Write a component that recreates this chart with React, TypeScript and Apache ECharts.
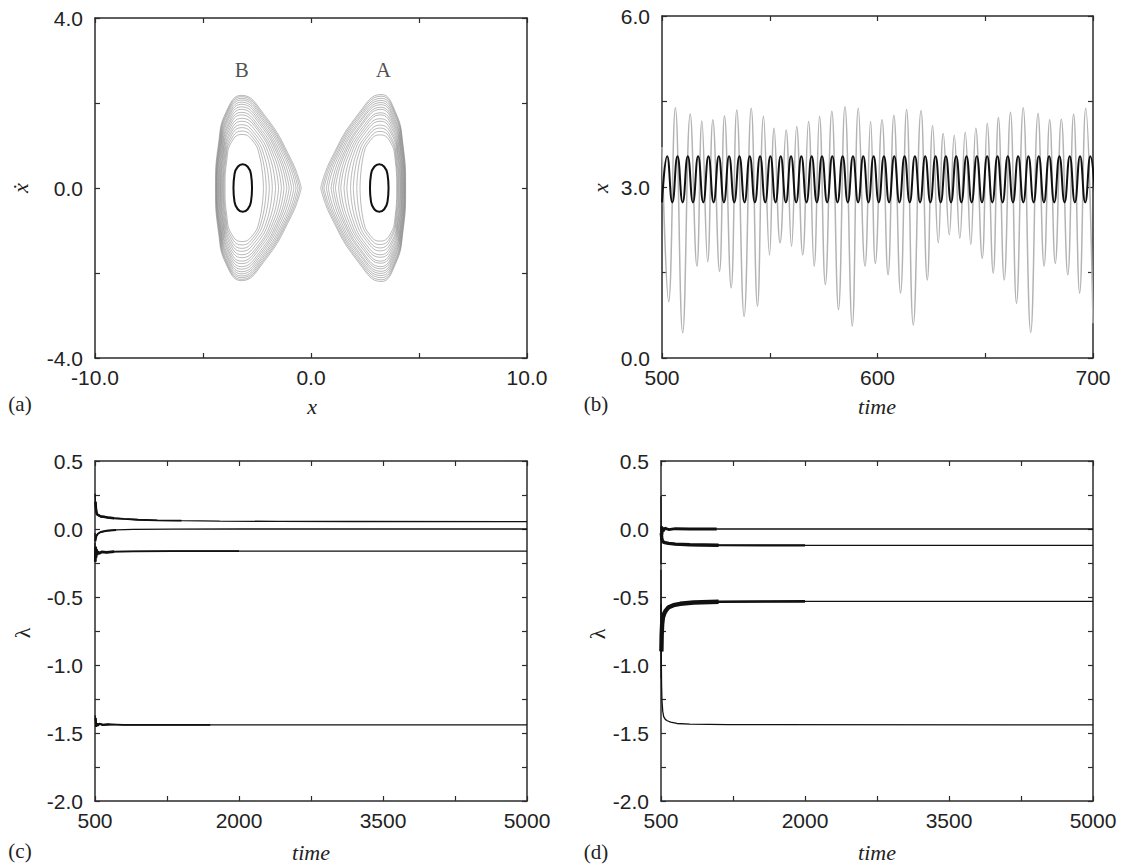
import { useEffect, useRef } from "react";
import * as echarts from "echarts";

const SANS = "'Liberation Sans', Arial, Helvetica, sans-serif";
const SERIF = "'Liberation Serif', 'Times New Roman', 'DejaVu Serif', serif";
const AXIS_COLOR = "#2b2b2b";
const TEXT_COLOR = "#222222";

// ---------------- (a) phase plane ----------------
const phaseXTicks = [-10, -5, 0, 5, 10];
const phaseXLabels = [-10, 0, 10];
const phaseYTicks = [-4, -2, 0, 2, 4];
const phaseYLabels = [-4, 0, 4];

// chaotic attractor around the right well (A): nested loops, inner to outer
const attractorA: number[][][] = [
  [[2.27,0],[2.42,0.75],[2.75,1.12],[3.2,1.25],[3.65,1.1],[3.9,0.65],[3.97,0],[3.9,-0.65],[3.65,-1.1],[3.2,-1.25],[2.75,-1.12],[2.42,-0.75],[2.27,0]],
  [[2.12,0],[2.3,0.74],[2.71,1.17],[3.2,1.33],[3.67,1.16],[3.93,0.68],[4.0,0],[3.93,-0.68],[3.67,-1.16],[3.2,-1.33],[2.71,-1.17],[2.3,-0.74],[2.12,0]],
  [[1.96,0],[2.17,0.73],[2.66,1.23],[3.21,1.41],[3.69,1.21],[3.96,0.71],[4.04,0],[3.96,-0.71],[3.69,-1.21],[3.21,-1.41],[2.66,-1.23],[2.17,-0.73],[1.96,0]],
  [[1.83,0],[2.05,0.73],[2.61,1.27],[3.21,1.48],[3.71,1.28],[3.99,0.75],[4.07,0],[3.99,-0.75],[3.71,-1.28],[3.21,-1.48],[2.61,-1.27],[2.05,-0.73],[1.83,0]],
  [[1.66,0],[1.92,0.72],[2.57,1.34],[3.22,1.57],[3.73,1.33],[4.02,0.78],[4.11,0],[4.02,-0.78],[3.73,-1.33],[3.22,-1.57],[2.57,-1.34],[1.92,-0.72],[1.66,0]],
  [[1.53,0],[1.8,0.71],[2.52,1.38],[3.22,1.63],[3.75,1.39],[4.04,0.81],[4.14,0],[4.04,-0.81],[3.75,-1.39],[3.22,-1.63],[2.52,-1.38],[1.8,-0.71],[1.53,0]],
  [[1.38,0],[1.68,0.7],[2.49,1.43],[3.22,1.72],[3.77,1.44],[4.07,0.84],[4.17,0],[4.07,-0.84],[3.77,-1.44],[3.22,-1.72],[2.49,-1.43],[1.68,-0.7],[1.38,0]],
  [[1.28,0],[1.58,0.7],[2.45,1.47],[3.23,1.77],[3.79,1.49],[4.09,0.87],[4.2,0],[4.09,-0.87],[3.79,-1.49],[3.23,-1.77],[2.45,-1.47],[1.58,-0.7],[1.28,0]],
  [[1.13,0],[1.48,0.69],[2.41,1.52],[3.23,1.85],[3.81,1.53],[4.12,0.9],[4.22,0],[4.12,-0.9],[3.81,-1.53],[3.23,-1.85],[2.41,-1.52],[1.48,-0.69],[1.13,0]],
  [[1.03,0],[1.39,0.68],[2.38,1.55],[3.23,1.9],[3.82,1.58],[4.14,0.92],[4.25,0],[4.14,-0.92],[3.82,-1.58],[3.23,-1.9],[2.38,-1.55],[1.39,-0.68],[1.03,0]],
  [[0.93,0],[1.3,0.68],[2.34,1.59],[3.24,1.96],[3.84,1.62],[4.16,0.95],[4.27,0],[4.16,-0.95],[3.84,-1.62],[3.24,-1.96],[2.34,-1.59],[1.3,-0.68],[0.93,0]],
  [[0.8,0],[1.2,0.67],[2.31,1.62],[3.24,2.01],[3.85,1.66],[4.18,0.97],[4.3,0],[4.18,-0.97],[3.85,-1.66],[3.24,-2.01],[2.31,-1.62],[1.2,-0.67],[0.8,0]],
  [[0.71,0],[1.11,0.66],[2.28,1.66],[3.24,2.06],[3.87,1.7],[4.2,0.99],[4.32,0],[4.2,-0.99],[3.87,-1.7],[3.24,-2.06],[2.28,-1.66],[1.11,-0.66],[0.71,0]],
  [[0.6,0],[1.04,0.66],[2.25,1.69],[3.25,2.11],[3.88,1.74],[4.22,1.01],[4.34,0],[4.22,-1.01],[3.88,-1.74],[3.25,-2.11],[2.25,-1.69],[1.04,-0.66],[0.6,0]],
  [[0.53,0],[0.96,0.65],[2.22,1.72],[3.25,2.16],[3.89,1.77],[4.24,1.03],[4.36,0],[4.24,-1.03],[3.89,-1.77],[3.25,-2.16],[2.22,-1.72],[0.96,-0.65],[0.53,0]],
  [[0.45,0],[0.9,0.65],[2.2,1.75],[3.25,2.2],[3.9,1.8],[4.25,1.05],[4.38,0],[4.25,-1.05],[3.9,-1.8],[3.25,-2.2],[2.2,-1.75],[0.9,-0.65],[0.45,0]],
];

// chaotic attractor around the left well (B)
const attractorB: number[][][] = [
  [[-2.2,0],[-2.38,0.75],[-2.73,1.13],[-3.2,1.26],[-3.66,1.1],[-3.9,0.65],[-3.98,0],[-3.9,-0.65],[-3.66,-1.1],[-3.2,-1.26],[-2.73,-1.13],[-2.38,-0.75],[-2.2,0]],
  [[-2.07,0],[-2.27,0.74],[-2.69,1.18],[-3.2,1.34],[-3.68,1.16],[-3.94,0.68],[-4.02,0],[-3.94,-0.68],[-3.68,-1.16],[-3.2,-1.34],[-2.69,-1.18],[-2.27,-0.74],[-2.07,0]],
  [[-1.93,0],[-2.15,0.73],[-2.65,1.23],[-3.21,1.42],[-3.7,1.22],[-3.97,0.71],[-4.06,0],[-3.97,-0.71],[-3.7,-1.22],[-3.21,-1.42],[-2.65,-1.23],[-2.15,-0.73],[-1.93,0]],
  [[-1.79,0],[-2.02,0.73],[-2.6,1.28],[-3.21,1.49],[-3.72,1.28],[-4.0,0.75],[-4.09,0],[-4.0,-0.75],[-3.72,-1.28],[-3.21,-1.49],[-2.6,-1.28],[-2.02,-0.73],[-1.79,0]],
  [[-1.64,0],[-1.9,0.72],[-2.56,1.34],[-3.21,1.57],[-3.74,1.33],[-4.03,0.78],[-4.13,0],[-4.03,-0.78],[-3.74,-1.33],[-3.21,-1.57],[-2.56,-1.34],[-1.9,-0.72],[-1.64,0]],
  [[-1.5,0],[-1.78,0.71],[-2.51,1.39],[-3.21,1.64],[-3.76,1.39],[-4.06,0.81],[-4.16,0],[-4.06,-0.81],[-3.76,-1.39],[-3.21,-1.64],[-2.51,-1.39],[-1.78,-0.71],[-1.5,0]],
  [[-1.37,0],[-1.67,0.7],[-2.48,1.43],[-3.22,1.72],[-3.78,1.44],[-4.08,0.84],[-4.19,0],[-4.08,-0.84],[-3.78,-1.44],[-3.22,-1.72],[-2.48,-1.43],[-1.67,-0.7],[-1.37,0]],
  [[-1.25,0],[-1.57,0.7],[-2.44,1.47],[-3.22,1.78],[-3.8,1.49],[-4.11,0.87],[-4.22,0],[-4.11,-0.87],[-3.8,-1.49],[-3.22,-1.78],[-2.44,-1.47],[-1.57,-0.7],[-1.25,0]],
  [[-1.12,0],[-1.47,0.69],[-2.4,1.52],[-3.22,1.85],[-3.82,1.53],[-4.13,0.9],[-4.25,0],[-4.13,-0.9],[-3.82,-1.53],[-3.22,-1.85],[-2.4,-1.52],[-1.47,-0.69],[-1.12,0]],
  [[-1.01,0],[-1.38,0.68],[-2.37,1.56],[-3.22,1.91],[-3.84,1.58],[-4.16,0.92],[-4.28,0],[-4.16,-0.92],[-3.84,-1.58],[-3.22,-1.91],[-2.37,-1.56],[-1.38,-0.68],[-1.01,0]],
  [[-0.9,0],[-1.29,0.68],[-2.33,1.59],[-3.22,1.97],[-3.86,1.62],[-4.18,0.95],[-4.31,0],[-4.18,-0.95],[-3.86,-1.62],[-3.22,-1.97],[-2.33,-1.59],[-1.29,-0.68],[-0.9,0]],
  [[-0.79,0],[-1.19,0.67],[-2.3,1.63],[-3.22,2.02],[-3.87,1.66],[-4.2,0.97],[-4.34,0],[-4.2,-0.97],[-3.87,-1.66],[-3.22,-2.02],[-2.3,-1.63],[-1.19,-0.67],[-0.79,0]],
  [[-0.69,0],[-1.1,0.66],[-2.27,1.66],[-3.22,2.07],[-3.89,1.7],[-4.22,0.99],[-4.36,0],[-4.22,-0.99],[-3.89,-1.7],[-3.22,-2.07],[-2.27,-1.66],[-1.1,-0.66],[-0.69,0]],
  [[-0.6,0],[-1.03,0.66],[-2.24,1.69],[-3.22,2.11],[-3.9,1.74],[-4.24,1.01],[-4.38,0],[-4.24,-1.01],[-3.9,-1.74],[-3.22,-2.11],[-2.24,-1.69],[-1.03,-0.66],[-0.6,0]],
  [[-0.52,0],[-0.96,0.65],[-2.22,1.72],[-3.22,2.15],[-3.91,1.77],[-4.26,1.03],[-4.4,0],[-4.26,-1.03],[-3.91,-1.77],[-3.22,-2.15],[-2.22,-1.72],[-0.96,-0.65],[-0.52,0]],
  [[-0.45,0],[-0.9,0.65],[-2.2,1.75],[-3.22,2.18],[-3.92,1.8],[-4.28,1.05],[-4.42,0],[-4.28,-1.05],[-3.92,-1.8],[-3.22,-2.18],[-2.2,-1.75],[-0.9,-0.65],[-0.45,0]],
];

// periodic orbits (black)
const periodicOrbitA = [[2.73,0],[2.78,0.33],[2.93,0.5],[3.16,0.56],[3.39,0.5],[3.54,0.33],[3.59,0],[3.54,-0.33],[3.39,-0.5],[3.16,-0.56],[2.93,-0.5],[2.78,-0.33],[2.73,0],[2.78,0.33]];
const periodicOrbitB = [[-2.73,0],[-2.78,0.33],[-2.93,0.5],[-3.16,0.56],[-3.39,0.5],[-3.54,0.33],[-3.59,0],[-3.54,-0.33],[-3.39,-0.5],[-3.16,-0.56],[-2.93,-0.5],[-2.78,-0.33],[-2.73,0],[-2.78,0.33]];

const attractorNames = ["B", "A"];
const attractorNameX = [-3.21, 3.35];
const attractorNameY = [2.78, 2.78];

// ---------------- (b) time series ----------------
const seriesXTicks = [500, 550, 600, 650, 700];
const seriesXLabels = [500, 600, 700];
const seriesYTicks = [0, 1.5, 3, 4.5, 6];
const seriesYLabels = [0, 3, 6];

const chaoticX = [
  [500,3.7],[503.1,0.99],[506.2,4.39],[509.6,0.44],[513.1,4.28],[516.2,1.61],[518.5,4.16],[521.2,1.69],
  [523.6,4.18],[526.7,1.52],[529.0,4.25],[532.1,1.23],[534.7,4.35],[538.1,0.73],[541.4,4.38],[544.3,0.91],
  [547.1,4.24],[549.9,1.81],[552.0,4.03],[554.8,2.02],[557.6,4.0],[560.1,1.96],[562.5,4.06],[565.3,1.81],
  [568.0,4.15],[570.6,1.61],[573.1,4.24],[575.8,1.29],[578.8,4.33],[581.9,0.85],[584.9,4.41],[588.3,0.56],
  [591.1,4.38],[594.2,1.61],[596.8,4.15],[599.0,1.66],[602.1,4.18],[604.9,1.46],[607.6,4.26],[610.7,1.14],
  [613.5,4.36],[616.6,0.58],[620.2,4.34],[623.1,1.37],[625.6,4.08],[628.2,2.02],[630.5,3.94],[633.3,2.16],
  [635.6,3.91],[638.2,2.1],[640.7,3.96],[643.3,1.99],[645.6,4.03],[648.6,1.75],[650.9,4.12],[653.7,1.49],
  [656.1,4.22],[658.8,1.37],[661.7,4.31],[664.5,0.96],[667.6,4.39],[671.1,0.45],[674.5,4.29],[677.3,1.61],
  [679.9,4.18],[682.5,1.66],[685.3,4.19],[688.3,1.46],[691.0,4.28],[693.8,1.14],[696.6,4.38],[700,0.61],
];

// periodic solution: successive extrema, one every half period
const periodicStart = 500;
const periodicHalfPeriod = 2.395;
const periodicX = [
  2.73,3.54,2.73,3.54,2.73,3.54,2.73,3.54,2.73,3.54,2.73,3.54,2.73,3.54,2.73,3.54,2.73,3.54,2.73,3.54,
  2.73,3.54,2.73,3.54,2.73,3.54,2.73,3.54,2.73,3.54,2.73,3.54,2.73,3.54,2.73,3.54,2.73,3.54,2.73,3.54,
  2.73,3.54,2.73,3.54,2.73,3.54,2.73,3.54,2.73,3.54,2.73,3.54,2.73,3.54,2.73,3.54,2.73,3.54,2.73,3.54,
  2.73,3.54,2.73,3.54,2.73,3.54,2.73,3.54,2.73,3.54,2.73,3.54,2.73,3.54,2.73,3.54,2.73,3.54,2.73,3.54,
  2.73,3.54,2.73,3.54,2.73,
];

// ---------------- (c), (d) Lyapunov exponents ----------------
const lyapXTicks = [500, 1250, 2000, 2750, 3500, 4250, 5000];
const lyapXLabels = [500, 2000, 3500, 5000];
const lyapYTicks = [-2, -1.75, -1.5, -1.25, -1, -0.75, -0.5, -0.25, 0, 0.25, 0.5];
const lyapYLabels = [-2, -1.5, -1, -0.5, 0, 0.5];

const lyapC1 = [[500,0.26],[505,0.2],[510,0.15],[516,0.12],[525,0.105],[540,0.1],[560,0.092],[590,0.09],[630,0.085],[700,0.079],[800,0.074],[950,0.068],[1150,0.064],[1400,0.061],[1800,0.058],[2400,0.056],[3200,0.055],[5000,0.054]];
const lyapC2 = [[500,-0.03],[503,-0.09],[508,-0.07],[515,-0.05],[530,-0.035],[560,-0.022],[620,-0.013],[720,-0.007],[900,-0.003],[1300,-0.001],[2000,0],[5000,0]];
const lyapC3 = [[500,-0.1],[503,-0.24],[507,-0.13],[511,-0.21],[516,-0.15],[522,-0.19],[530,-0.165],[545,-0.18],[570,-0.168],[620,-0.172],[700,-0.166],[900,-0.165],[1300,-0.163],[2000,-0.162],[5000,-0.162]];
const lyapC4 = [[500,-1.37],[506,-1.39],[512,-1.455],[520,-1.43],[530,-1.445],[545,-1.432],[580,-1.44],[650,-1.436],[800,-1.44],[1700,-1.44],[5000,-1.44]];

const lyapD1 = [[500,0.24],[502,0.02],[504,-0.08],[507,0.02],[511,-0.04],[516,0.01],[524,-0.015],[540,0.006],[580,-0.004],[650,0.002],[800,0],[1080,0],[5000,0]];
const lyapD2 = [[500,-0.26],[503,-0.03],[507,-0.06],[513,-0.085],[522,-0.095],[540,-0.1],[580,-0.106],[650,-0.111],[800,-0.116],[1100,-0.119],[1600,-0.12],[2000,-0.12],[5000,-0.12]];
const lyapD3 = [[500,-0.3],[502,-1.1],[504,-0.9],[507,-0.78],[512,-0.7],[520,-0.65],[535,-0.62],[550,-0.6],[580,-0.575],[630,-0.56],[700,-0.55],[840,-0.54],[1100,-0.535],[1600,-0.533],[2000,-0.532],[5000,-0.532]];
const lyapD4 = [[500,-0.55],[503,-0.95],[506,-1.15],[510,-1.26],[518,-1.34],[528,-1.38],[545,-1.4],[565,-1.41],[600,-1.42],[666,-1.43],[800,-1.435],[1200,-1.438],[5000,-1.44]];

const lyapC = [lyapC1, lyapC2, lyapC3, lyapC4];
const lyapD = [lyapD1, lyapD2, lyapD3, lyapD4];
// transient noise bands: [line index, until time, stroke width]
const noiseC = [[0, 700, 2.5], [0, 1400, 1.8], [1, 720, 2.0], [2, 700, 2.7], [2, 2000, 1.8], [3, 650, 2.1], [3, 1700, 1.7]];
const noiseD = [[0, 1080, 2.8], [1, 2000, 2.2], [1, 1100, 3.4], [2, 2000, 2.6], [2, 1100, 4.4]];

function buildAxes(grid: number, kind: "x" | "y", min: number, max: number, ticks: number[], labels: number[], digits: number) {
  const line = { show: true, onZero: false, lineStyle: { color: AXIS_COLOR, width: 1.5 } };
  const tick = { show: true, inside: true, length: 5, customValues: ticks, lineStyle: { color: AXIS_COLOR, width: 1.2 } };
  const main: any = {
    type: "value", gridIndex: grid, min, max,
    position: kind === "x" ? "bottom" : "left",
    axisLine: line, axisTick: tick,
    axisLabel: {
      show: true, customValues: labels, formatter: (v: number) => v.toFixed(digits),
      fontFamily: SANS, fontSize: 21, lineHeight: 16, color: TEXT_COLOR, margin: kind === "x" ? 11 : 12,
    },
    splitLine: { show: false },
  };
  const mirror: any = { ...main, position: kind === "x" ? "top" : "right", axisLabel: { show: false } };
  return [main, mirror];
}

function text(t: string, x: number, y: number, size: number, family: string, italic: boolean, rotation = 0) {
  return {
    type: "text", x, y, rotation,
    style: {
      text: t, fill: TEXT_COLOR, fontSize: size, fontFamily: family, fontStyle: italic ? "italic" : "normal",
      align: "center", verticalAlign: "middle", textAlign: "center", textVerticalAlign: "middle",
    },
  };
}

export default function App() {
  const ref = useRef<HTMLDivElement>(null);
  useEffect(() => {
    if (!ref.current) return;
    const chart = echarts.init(ref.current, undefined, { renderer: "svg" });

    const xAxis = [
      ...buildAxes(0, "x", -10, 10, phaseXTicks, phaseXLabels, 1),
      ...buildAxes(1, "x", 500, 700, seriesXTicks, seriesXLabels, 0),
      ...buildAxes(2, "x", 500, 5000, lyapXTicks, lyapXLabels, 0),
      ...buildAxes(3, "x", 500, 5000, lyapXTicks, lyapXLabels, 0),
    ];
    const yAxis = [
      ...buildAxes(0, "y", -4, 4, phaseYTicks, phaseYLabels, 1),
      ...buildAxes(1, "y", 0, 6, seriesYTicks, seriesYLabels, 1),
      ...buildAxes(2, "y", -2, 0.5, lyapYTicks, lyapYLabels, 1),
      ...buildAxes(3, "y", -2, 0.5, lyapYTicks, lyapYLabels, 1),
    ];

    const series: any[] = [];
    const loopStyle = { color: "rgba(115,115,115,0.5)", width: 1 };
    [...attractorA, ...attractorB].forEach((loop) => {
      series.push({ type: "line", xAxisIndex: 0, yAxisIndex: 0, data: loop, smooth: 0.5, symbol: "none", lineStyle: loopStyle, silent: true, z: 2 });
    });
    [periodicOrbitA, periodicOrbitB].forEach((orbit) => {
      series.push({ type: "line", xAxisIndex: 0, yAxisIndex: 0, data: orbit, smooth: 0.5, symbol: "none", lineStyle: { color: "#111", width: 2 }, silent: true, z: 3 });
    });
    series.push({
      type: "scatter", xAxisIndex: 0, yAxisIndex: 0, symbolSize: 0, silent: true,
      data: attractorNames.map((n, i) => ({ name: n, value: [attractorNameX[i], attractorNameY[i]] })),
      label: { show: true, position: "inside", formatter: "{b}", fontFamily: SERIF, fontSize: 21, color: TEXT_COLOR },
    });

    series.push({ type: "line", xAxisIndex: 2, yAxisIndex: 2, data: chaoticX, smooth: 0.45, symbol: "none", lineStyle: { color: "#b3b3b3", width: 1.5 }, silent: true, z: 2 });
    series.push({
      type: "line", xAxisIndex: 2, yAxisIndex: 2, smooth: 0.5, symbol: "none", silent: true, z: 3,
      data: periodicX.map((v, i) => [periodicStart + i * periodicHalfPeriod, v]),
      lineStyle: { color: "#111", width: 2 },
    });

    const addLyap = (lines: number[][][], noise: number[][], axis: number) => {
      lines.forEach((pts) => {
        series.push({ type: "line", xAxisIndex: axis, yAxisIndex: axis, data: pts, symbol: "none", lineStyle: { color: "#111", width: 1.3 }, silent: true, z: 3 });
      });
      noise.forEach(([li, until, w]) => {
        series.push({
          type: "line", xAxisIndex: axis, yAxisIndex: axis, symbol: "none", silent: true, z: 3,
          data: lines[li].filter((p) => p[0] >= 503 && p[0] <= until),
          lineStyle: { color: "#111", width: w },
        });
      });
    };
    addLyap(lyapC, noiseC, 4);
    addLyap(lyapD, noiseD, 6);

    const graphic = [
      text("(a)", 20, 404, 21, SERIF, false),
      text("(b)", 596, 404, 21, SERIF, false),
      text("(c)", 20, 851, 21, SERIF, false),
      text("(d)", 596, 852, 21, SERIF, false),
      text("x", 312, 406, 22, SERIF, true),
      text("time", 877, 406, 22, SERIF, true),
      text("time", 311, 852, 22, SERIF, true),
      text("time", 877, 852, 22, SERIF, true),
      text("\u1E8B", 20, 188, 22, SERIF, true, Math.PI / 2),
      text("x", 600, 188, 22, SERIF, true, Math.PI / 2),
      text("\u03BB", 22, 633, 22, SERIF, false, Math.PI / 2),
      text("\u03BB", 597, 634, 22, SERIF, false, Math.PI / 2),
    ];

    chart.setOption({
      animation: false,
      backgroundColor: "#ffffff",
      grid: [
        { left: 95, top: 18, width: 432, height: 340 },
        { left: 662, top: 16, width: 431, height: 342 },
        { left: 95, top: 461, width: 432, height: 340 },
        { left: 661, top: 461, width: 432, height: 340 },
      ],
      xAxis, yAxis, series, graphic,
    });
    return () => chart.dispose();
  }, []);
  return <div ref={ref} style={{ position: "absolute", left: 0, top: 0, width: 1123, height: 865, background: "#fff" }} />;
}
